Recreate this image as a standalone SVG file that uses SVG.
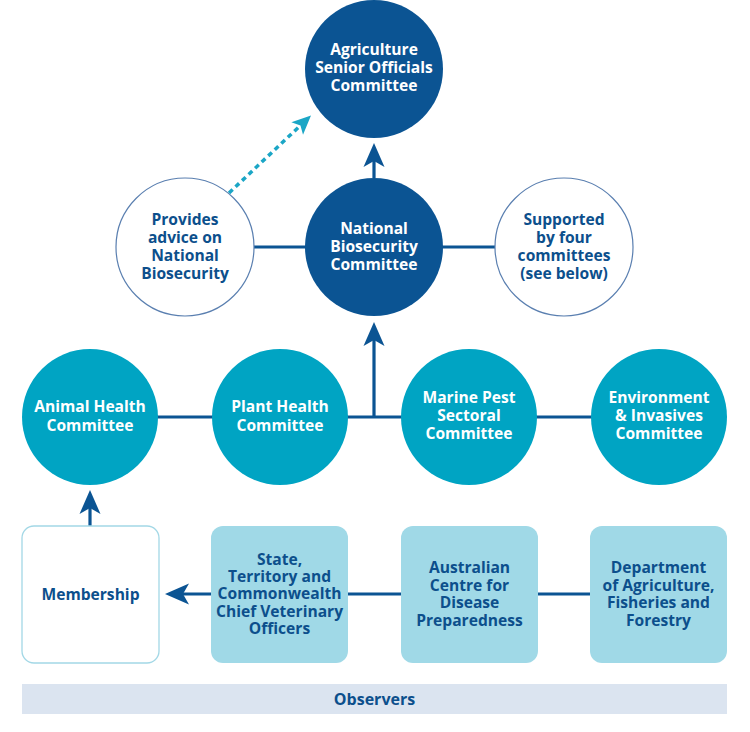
<svg xmlns="http://www.w3.org/2000/svg" width="750" height="732" viewBox="0 0 750 732">
  <defs>
    <style>
      .navy { fill: #0b5493; }
      .teal { fill: #00a4c3; }
      .outline { fill: #ffffff; stroke: #5a7fb0; stroke-width: 1.2; }
      .box { fill: #a0d9e7; }
      .boxw { fill: #ffffff; stroke: #a3d8e6; stroke-width: 1.3; }
      .obs { fill: #dbe4f0; }
      .line { stroke: #0b5493; stroke-width: 3.2; fill: none; }
      .dash { stroke: #1ba6c6; stroke-width: 3.5; fill: none; stroke-dasharray: 5 4; }
      text { font-family: "Open Sans", "Liberation Sans", sans-serif; font-weight: 700; font-size: 15.6px; text-anchor: middle; }
      .w { fill: #ffffff; }
      .d { fill: #0c4f8c; }
    </style>
    <marker id="ah" markerUnits="userSpaceOnUse" viewBox="-2 -12 28 24" markerWidth="28" markerHeight="24" refX="14" refY="0" orient="auto">
      <path d="M0,-10.5 L24,0 L0,10.5 L6,0 Z" fill="#0b5493"/>
    </marker>
    <marker id="ahd" markerUnits="userSpaceOnUse" viewBox="-2 -10 22 20" markerWidth="22" markerHeight="20" refX="8" refY="0" orient="auto">
      <path d="M0,-8.5 L19,0 L0,8.5 L4.5,0 Z" fill="#1ba6c6"/>
    </marker>
  </defs>

  <g id="connectors">
    <line class="line" x1="253" y1="247" x2="306" y2="247"/>
    <line class="line" x1="442" y1="247" x2="496" y2="247"/>
    <line class="line" x1="374" y1="178" x2="374" y2="153" marker-end="url(#ah)"/>
    <line class="dash" x1="229" y1="193" x2="303" y2="123" marker-end="url(#ahd)"/>
    <line class="line" x1="90" y1="417" x2="659" y2="417"/>
    <line class="line" x1="374" y1="417" x2="374" y2="332" marker-end="url(#ah)"/>
    <line class="line" x1="90" y1="526" x2="90" y2="500" marker-end="url(#ah)"/>
    <line class="line" x1="348" y1="594" x2="590" y2="594"/>
    <line class="line" x1="211" y1="594" x2="175" y2="594" marker-end="url(#ah)"/>
  </g>

  <g id="asoc">
    <circle class="navy" cx="374" cy="69" r="69"/>
    <text class="w" x="374" y="55">Agriculture</text>
    <text class="w" x="374" y="73">Senior Officials</text>
    <text class="w" x="374" y="91">Committee</text>
  </g>

  <g id="nbc">
    <circle class="navy" cx="374" cy="247" r="69"/>
    <text class="w" x="374" y="234">National</text>
    <text class="w" x="374" y="252">Biosecurity</text>
    <text class="w" x="374" y="270">Committee</text>
  </g>

  <g id="provides">
    <circle class="outline" cx="185" cy="247" r="69"/>
    <text class="d" x="185" y="225">Provides</text>
    <text class="d" x="185" y="243">advice on</text>
    <text class="d" x="185" y="261">National</text>
    <text class="d" x="185" y="279">Biosecurity</text>
  </g>

  <g id="supported">
    <circle class="outline" cx="564" cy="247" r="69"/>
    <text class="d" x="564" y="225">Supported</text>
    <text class="d" x="564" y="243">by four</text>
    <text class="d" x="564" y="261">committees</text>
    <text class="d" x="564" y="279">(see below)</text>
  </g>

  <g id="animal">
    <circle class="teal" cx="90" cy="417" r="68"/>
    <text class="w" x="90" y="412">Animal Health</text>
    <text class="w" x="90" y="431">Committee</text>
  </g>

  <g id="plant">
    <circle class="teal" cx="280" cy="417" r="68"/>
    <text class="w" x="280" y="412">Plant Health</text>
    <text class="w" x="280" y="431">Committee</text>
  </g>

  <g id="marine">
    <circle class="teal" cx="469" cy="417" r="68"/>
    <text class="w" x="469" y="403">Marine Pest</text>
    <text class="w" x="469" y="421">Sectoral</text>
    <text class="w" x="469" y="439">Committee</text>
  </g>

  <g id="environment">
    <circle class="teal" cx="659" cy="417" r="68"/>
    <text class="w" x="659" y="403">Environment</text>
    <text class="w" x="659" y="421">&amp; Invasives</text>
    <text class="w" x="659" y="439">Committee</text>
  </g>

  <g id="membership">
    <rect class="boxw" x="22" y="526" width="137" height="137" rx="12"/>
    <text class="d" x="90.5" y="600">Membership</text>
  </g>

  <g id="cvo">
    <rect class="box" x="211" y="526" width="137" height="137" rx="12"/>
    <text class="d" x="279.5" y="565">State,</text>
    <text class="d" x="279.5" y="582">Territory and</text>
    <text class="d" x="279.5" y="599">Commonwealth</text>
    <text class="d" x="279.5" y="617">Chief Veterinary</text>
    <text class="d" x="279.5" y="634">Officers</text>
  </g>

  <g id="acdp">
    <rect class="box" x="401" y="526" width="137" height="137" rx="12"/>
    <text class="d" x="469.5" y="573">Australian</text>
    <text class="d" x="469.5" y="591">Centre for</text>
    <text class="d" x="469.5" y="608">Disease</text>
    <text class="d" x="469.5" y="626">Preparedness</text>
  </g>

  <g id="daff">
    <rect class="box" x="590" y="526" width="137" height="137" rx="12"/>
    <text class="d" x="658.5" y="573">Department</text>
    <text class="d" x="658.5" y="591">of Agriculture,</text>
    <text class="d" x="658.5" y="608">Fisheries and</text>
    <text class="d" x="658.5" y="626">Forestry</text>
  </g>

  <g id="observers">
    <rect class="obs" x="22" y="684" width="705" height="30"/>
    <text class="d" x="374.5" y="705" style="font-size:16px">Observers</text>
  </g>
</svg>
